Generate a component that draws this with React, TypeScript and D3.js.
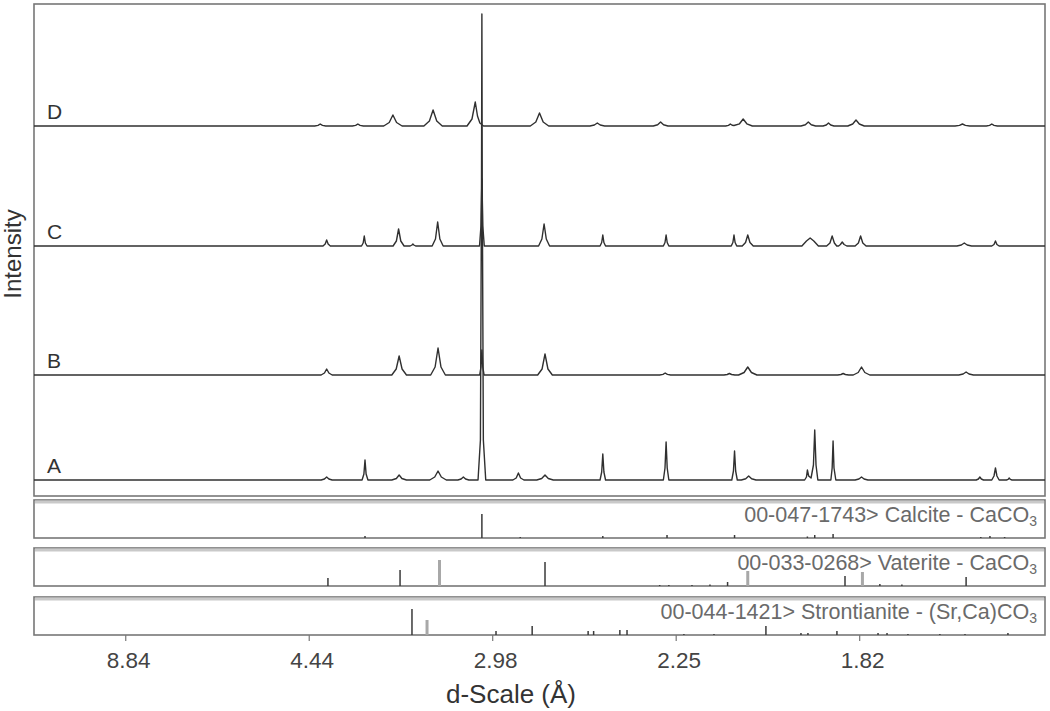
import React from "react";
import * as d3 from "d3";

// 2θ positions (Cu Kα) of the axis ticks and their d-spacing labels
const X_TICKS = [10, 20, 30, 40, 50];
const X_TICK_LABELS = ["8.84", "4.44", "2.98", "2.25", "1.82"];

const SERIES_LABELS = ["A", "B", "C", "D"];
const SERIES_OFFSETS = [0, 105, 234, 354];

// pattern traces: [2θ, intensity]
const patternA: [number, number][] = [
  [5, 0],
  [20.65, 0], [20.83, 1], [20.95, 3], [21.07, 1], [21.25, 0],
  [22.88, 0], [22.98, 6], [23.04, 20], [23.1, 6], [23.2, 0],
  [24.5, 0], [24.75, 1.5], [24.9, 5], [25.05, 1.5], [25.3, 0],
  [26.57, 0], [26.84, 3], [27.02, 9], [27.2, 3], [27.47, 0],
  [28.1, 0], [28.28, 1], [28.4, 3], [28.52, 1], [28.7, 0],
  [29.2, 0], [29.33, 40], [29.39, 300], [29.41, 466], [29.43, 300], [29.49, 40], [29.62, 0],
  [31.1, 0], [31.28, 2], [31.4, 7], [31.52, 2], [31.7, 0],
  [32.4, 0], [32.67, 1.5], [32.85, 5], [33.03, 1.5], [33.3, 0],
  [35.85, 0], [35.94, 8], [36.0, 26], [36.06, 8], [36.15, 0],
  [39.3, 0], [39.39, 12], [39.45, 38], [39.51, 12], [39.6, 0],
  [43.03, 0], [43.12, 9], [43.18, 29], [43.24, 9], [43.33, 0],
  [43.55, 0], [43.79, 1.2], [43.95, 4], [44.11, 1.2], [44.35, 0],
  [47.0, 0], [47.1, 3], [47.15, 10], [47.22, 4], [47.35, 2], [47.48, 15], [47.55, 50], [47.62, 15], [47.72, 0],
  [48.43, 0], [48.5, 12], [48.55, 39], [48.6, 12], [48.7, 0],
  [49.75, 0], [49.96, 1], [50.1, 3], [50.24, 1], [50.45, 0],
  [56.35, 0], [56.47, 1], [56.55, 3], [56.63, 1], [56.75, 0],
  [57.2, 0], [57.32, 4], [57.4, 12], [57.48, 4], [57.6, 0],
  [58.0, 0], [58.09, 0.6], [58.15, 2], [58.21, 0.6], [58.3, 0],
  [60.1, 0],
];

const patternB: [number, number][] = [
  [5, 0],
  [20.65, 0], [20.83, 2], [20.95, 6], [21.07, 2], [21.25, 0],
  [24.5, 0], [24.74, 6], [24.9, 19], [25.06, 6], [25.3, 0],
  [26.62, 0], [26.86, 8], [27.02, 27], [27.18, 8], [27.42, 0],
  [29.29, 0], [29.36, 8], [29.41, 25], [29.46, 8], [29.53, 0],
  [32.45, 0], [32.69, 6], [32.85, 21], [33.01, 6], [33.25, 0],
  [39.1, 0], [39.28, 0.6], [39.4, 2], [39.52, 0.6], [39.7, 0],
  [42.6, 0], [42.78, 0.5], [42.9, 1.5], [43.02, 0.5], [43.2, 0],
  [43.4, 0], [43.7, 2.5], [43.9, 8], [44.1, 2.5], [44.4, 0],
  [48.8, 0], [48.98, 0.5], [49.1, 1.5], [49.22, 0.5], [49.4, 0],
  [49.65, 0], [49.92, 2.5], [50.1, 8], [50.28, 2.5], [50.55, 0],
  [55.4, 0], [55.64, 1], [55.8, 3], [55.96, 1], [56.2, 0],
  [60.1, 0],
];

const patternC: [number, number][] = [
  [5, 0],
  [20.75, 0], [20.87, 2], [20.95, 6], [21.03, 2], [21.15, 0],
  [22.85, 0], [22.94, 3], [23.0, 10], [23.06, 3], [23.15, 0],
  [24.57, 0], [24.75, 5], [24.87, 17], [24.99, 5], [25.17, 0],
  [25.5, 0], [25.6, 1], [25.65, 2], [25.7, 1], [25.8, 0],
  [26.7, 0], [26.88, 7], [27.0, 24], [27.12, 7], [27.3, 0],
  [29.28, 0], [29.36, 20], [29.41, 67], [29.46, 20], [29.54, 0],
  [32.5, 0], [32.68, 7], [32.8, 22], [32.92, 7], [33.1, 0],
  [35.85, 0], [35.94, 3.5], [36.0, 11], [36.06, 3.5], [36.15, 0],
  [39.3, 0], [39.39, 3.5], [39.45, 11], [39.51, 3.5], [39.6, 0],
  [43.0, 0], [43.09, 3.5], [43.15, 11], [43.21, 3.5], [43.3, 0],
  [43.6, 0], [43.78, 3.5], [43.9, 11], [44.02, 3.5], [44.2, 0],
  [46.85, 0], [47.1, 5], [47.3, 8], [47.5, 5], [47.75, 0],
  [48.2, 0], [48.38, 3], [48.5, 10], [48.62, 3], [48.75, 0],
  [48.85, 0], [48.95, 1.5], [49.05, 4], [49.15, 1.5], [49.3, 0],
  [49.75, 0], [49.93, 3], [50.05, 10], [50.17, 3], [50.35, 0],
  [55.3, 0], [55.54, 1], [55.7, 3], [55.86, 1], [56.1, 0],
  [57.2, 0], [57.32, 1.5], [57.4, 5], [57.48, 1.5], [57.6, 0],
  [60.1, 0],
];

const patternD: [number, number][] = [
  [5, 0],
  [20.3, 0], [20.48, 0.6], [20.6, 2], [20.72, 0.6], [20.9, 0],
  [22.35, 0], [22.53, 0.6], [22.65, 2], [22.77, 0.6], [22.95, 0],
  [24.06, 0], [24.36, 3.5], [24.56, 11], [24.76, 3.5], [25.06, 0],
  [26.25, 0], [26.55, 5], [26.75, 16], [26.95, 5], [27.25, 0],
  [28.6, 0], [28.87, 7], [29.05, 24], [29.17, 10], [29.3, 3], [29.5, 0],
  [32.05, 0], [32.35, 4], [32.55, 13], [32.75, 4], [33.05, 0],
  [35.3, 0], [35.54, 1], [35.7, 3], [35.86, 1], [36.1, 0],
  [38.75, 0], [38.99, 1.2], [39.15, 4], [39.31, 1.2], [39.55, 0],
  [42.7, 0], [42.85, 0.6], [42.95, 2], [43.05, 0.7], [43.15, 0.5],
  [43.45, 2.2], [43.65, 7], [43.85, 2.2], [44.15, 0],
  [46.8, 0], [47.04, 1.2], [47.2, 4], [47.36, 1.2], [47.6, 0],
  [48.0, 0], [48.18, 1], [48.3, 3], [48.42, 1], [48.6, 0],
  [49.35, 0], [49.62, 2], [49.8, 6], [49.98, 2], [50.25, 0],
  [55.2, 0], [55.44, 0.6], [55.6, 2], [55.76, 0.6], [56.0, 0],
  [56.9, 0], [57.08, 0.6], [57.2, 2], [57.32, 0.6], [57.5, 0],
  [60.1, 0],
];

const PATTERNS = [patternA, patternB, patternC, patternD];

// reference stick patterns: [2θ, relative height]
const PHASE_NAMES = [
  "00-047-1743> Calcite - CaCO",
  "00-033-0268> Vaterite - CaCO",
  "00-044-1421> Strontianite - (Sr,Ca)CO",
];
const PHASE_SUBSCRIPTS = ["3", "3", "3"];

const calciteSticks: [number, number][] = [
  [23.04, 2], [29.41, 24], [31.5, 1], [36.0, 2], [39.5, 3], [43.18, 3],
  [47.15, 1.5], [47.55, 3], [48.55, 4], [56.6, 1], [57.1, 2], [57.9, 1],
];
const calciteSticksGray: [number, number][] = [];

const vateriteSticks: [number, number][] = [
  [21.02, 8], [24.95, 16], [32.85, 24], [39.1, 1], [39.6, 1], [40.86, 1],
  [41.84, 1.5], [42.8, 4], [49.2, 10], [51.1, 2], [52.3, 1.5], [55.8, 9],
];
const vateriteSticksGray: [number, number][] = [[27.1, 26], [43.9, 15], [50.15, 14]];

const strontianiteSticks: [number, number][] = [
  [25.6, 26], [30.18, 4], [32.15, 9], [35.2, 4], [35.5, 4], [36.93, 5], [37.32, 5],
  [40.42, 1], [42.06, 1], [44.89, 9], [46.8, 2], [47.18, 2], [48.76, 4],
  [51.0, 2], [51.49, 2], [52.63, 1], [54.37, 1], [55.74, 1], [58.08, 2],
];
const strontianiteSticksGray: [number, number][] = [[26.42, 15]];

const STICKS = [calciteSticks, vateriteSticks, strontianiteSticks];
const STICKS_GRAY = [calciteSticksGray, vateriteSticksGray, strontianiteSticksGray];

const FONT = "'Liberation Sans', Arial, Helvetica, sans-serif";

export default function App() {
  const W = 1050, H = 711;
  const left = 34, right = 1045;
  const mainTop = 4, mainBottom = 496;
  const panelTops = [500, 548, 597];
  const panelH = 38;

  const x = d3.scaleLinear().domain([5, 60.1]).range([left, right]);
  const y = d3.scaleLinear().domain([-16, 476]).range([mainBottom, mainTop]);

  const lineFor = (offset: number) =>
    d3
      .line<[number, number]>()
      .x((d) => x(d[0]))
      .y((d) => y(d[1] + offset));

  const axisY = panelTops[2] + panelH;

  return (
    <svg
      width={W}
      height={H}
      style={{ position: "absolute", left: 0, top: 0, background: "#fff" }}
      fontFamily={FONT}
    >
      <rect x={0} y={0} width={W} height={H} fill="#fff" />
      {/* main panel */}
      <rect
        x={left}
        y={mainTop}
        width={right - left}
        height={mainBottom - mainTop}
        fill="none"
        stroke="#777"
        strokeWidth={1.6}
      />
      {PATTERNS.map((p, i) => (
        <path
          key={i}
          d={lineFor(SERIES_OFFSETS[i])(p) || ""}
          fill="none"
          stroke="#303030"
          strokeWidth={1.4}
          strokeLinejoin="round"
        />
      ))}
      {SERIES_LABELS.map((s, i) => (
        <text
          key={s}
          x={47}
          y={y(SERIES_OFFSETS[i]) - 7}
          fontSize={21}
          fill="#333"
        >
          {s}
        </text>
      ))}

      {/* reference stick panels */}
      {panelTops.map((top, k) => {
        const ys = d3.scaleLinear().domain([0, panelH]).range([top + panelH, top]);
        return (
          <g key={k}>
            <rect x={left} y={top} width={right - left} height={panelH} fill="#fff" stroke="#777" strokeWidth={1.6} />
            <line x1={left + 1} x2={right - 1} y1={top + 2} y2={top + 2} stroke="#c9c9c9" strokeWidth={3} />
            {STICKS_GRAY[k].map((s, j) => (
              <line
                key={"g" + j}
                x1={x(s[0])}
                x2={x(s[0])}
                y1={ys(0)}
                y2={ys(s[1])}
                stroke="#a8a8a8"
                strokeWidth={3}
              />
            ))}
            {STICKS[k].map((s, j) => (
              <line
                key={j}
                x1={x(s[0])}
                x2={x(s[0])}
                y1={ys(0)}
                y2={ys(s[1])}
                stroke="#3a3a3a"
                strokeWidth={1.5}
              />
            ))}
            <text x={1037} y={top + 21.5} textAnchor="end" fontSize={21.5} fill="#6a6a6a">
              {PHASE_NAMES[k]}
              <tspan fontSize={14} dy={4}>
                {PHASE_SUBSCRIPTS[k]}
              </tspan>
            </text>
          </g>
        );
      })}

      {/* x axis ticks */}
      {X_TICKS.map((t, i) => (
        <g key={t}>
          <line x1={x(t)} x2={x(t)} y1={axisY} y2={axisY + 6} stroke="#777" strokeWidth={1.2} />
          <text x={x(t) + 3} y={668} textAnchor="middle" fontSize={22.5} fill="#444">
            {X_TICK_LABELS[i]}
          </text>
        </g>
      ))}
      <text x={511} y={703} textAnchor="middle" fontSize={26} fill="#333">
        d-Scale (Å)
      </text>
      <text
        transform="rotate(-90)"
        x={-254}
        y={21}
        textAnchor="middle"
        fontSize={24}
        fill="#333"
      >
        Intensity
      </text>
    </svg>
  );
}
